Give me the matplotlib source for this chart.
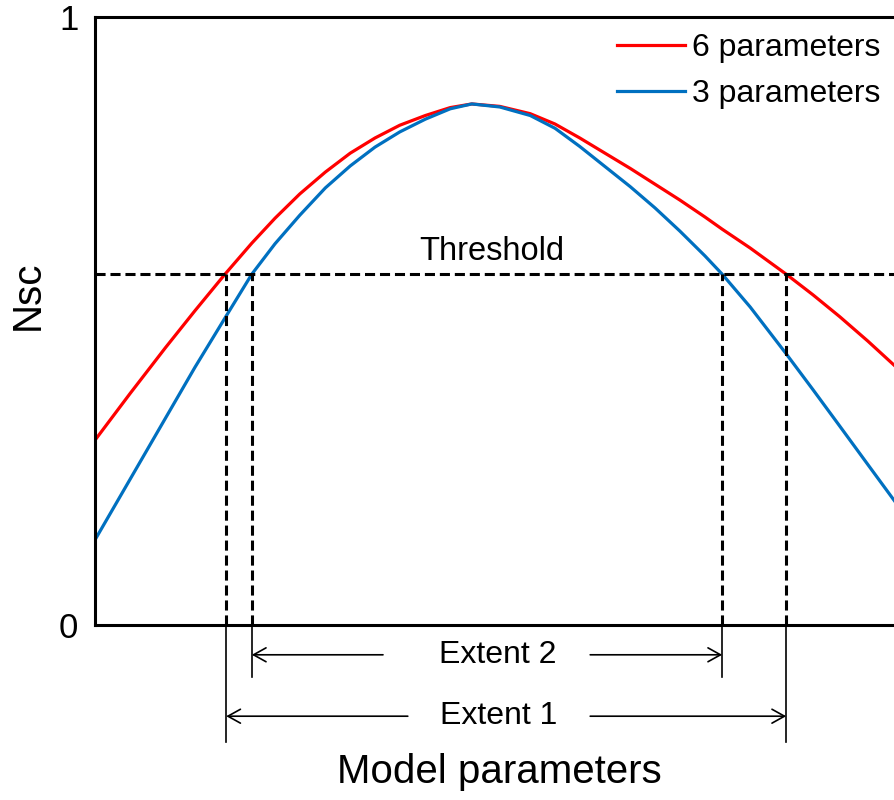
import matplotlib.pyplot as plt

plt.rcParams['font.family'] = ['Liberation Sans', 'DejaVu Sans']

# values (x: 0-100 model parameter axis, y: Nsc 0-1)
x = [0, 4.4, 8.8, 12.5, 16.25, 19.6, 22.5, 25.6, 28.8, 31.9, 35, 38.1, 41.3,
     44.4, 47.1, 50.6, 54.4, 57.5, 60.6, 63.75, 66.9, 70, 73.1, 76.25, 78.4,
     81.9, 86.4, 89.75, 93.1, 96.6, 100]
nsc_6 = [0.304, 0.381, 0.456, 0.517, 0.577, 0.628, 0.669, 0.709, 0.745, 0.776,
         0.801, 0.822, 0.838, 0.851, 0.857, 0.853, 0.841, 0.824, 0.801, 0.776,
         0.751, 0.725, 0.699, 0.671, 0.651, 0.620, 0.577, 0.543, 0.507, 0.467,
         0.426]
nsc_3 = [0.140, 0.240, 0.340, 0.424, 0.505, 0.577, 0.627, 0.674, 0.719, 0.755,
         0.786, 0.811, 0.832, 0.849, 0.857, 0.852, 0.838, 0.817, 0.787, 0.754,
         0.721, 0.686, 0.648, 0.607, 0.577, 0.523, 0.446, 0.387, 0.327, 0.264,
         0.203]
threshold = 0.577
# threshold crossings: 6 params left/right, 3 params left/right
ext1 = [16.4, 86.4]
ext2 = [19.6, 78.4]

fig = plt.figure(figsize=(8.95, 8), dpi=100)
ax = fig.add_axes([95 / 895, 175 / 800, 800 / 895, 608 / 800])

ax.plot(x, nsc_6, color='#FF0000', linewidth=2.3, label='6 parameters')
ax.plot(x, nsc_3, color='#0070C0', linewidth=2.3, label='3 parameters')

dash = dict(color='black', linewidth=2.2, dashes=(3.3, 1.6))
ax.plot([0, 100], [threshold, threshold], **dash)
for xc in ext1 + ext2:
    ax.plot([xc, xc], [0, threshold], **dash)
ax.text(49.6, threshold + 0.012, 'Threshold', ha='center', va='bottom', fontsize=23.5)

# extent markers below the axis
for xc in ext1:
    ax.plot([xc, xc], [0, -0.192], color='black', linewidth=1.2, clip_on=False)
for xc in ext2:
    ax.plot([xc, xc], [0, -0.086], color='black', linewidth=1.2, clip_on=False)

arrow = dict(arrowstyle='->,head_length=0.45,head_width=0.25', color='black',
             linewidth=1.2, shrinkA=0, shrinkB=0, mutation_scale=20)
for (xl, xr), y, lab, gl, gr in [(ext2, -0.049, 'Extent 2', 36.0, 61.9),
                                  (ext1, -0.150, 'Extent 1', 39.1, 61.9)]:
    ax.annotate('', xy=(xl, y), xytext=(gl, y), arrowprops=arrow, annotation_clip=False)
    ax.annotate('', xy=(xr, y), xytext=(gr, y), arrowprops=arrow, annotation_clip=False)
    ax.text(50.4, y, lab, ha='center', va='center', fontsize=23)

ax.set_xlim(0, 100)
ax.set_ylim(0, 1)
ax.set_xticks([])
ax.set_yticks([0, 1])
ax.tick_params(axis='y', length=0, pad=12, labelsize=25)
for s in ['left', 'top', 'bottom']:
    ax.spines[s].set_linewidth(2.2)
ax.spines['right'].set_visible(False)

fig.text(28 / 895, 1 - 295 / 800, 'Nsc', rotation=90, ha='center', va='center', fontsize=29)
ax.set_xlabel('Model parameters', fontsize=29)
ax.xaxis.set_label_coords(0.505, -0.21)

ax.legend(loc='upper right', bbox_to_anchor=(0.99, 0.984), frameon=False, fontsize=23,
          handlelength=2.15, handletextpad=0.22, labelspacing=0.5, borderpad=0.2,
          borderaxespad=0.0)

plt.savefig('out.png', dpi=100)
